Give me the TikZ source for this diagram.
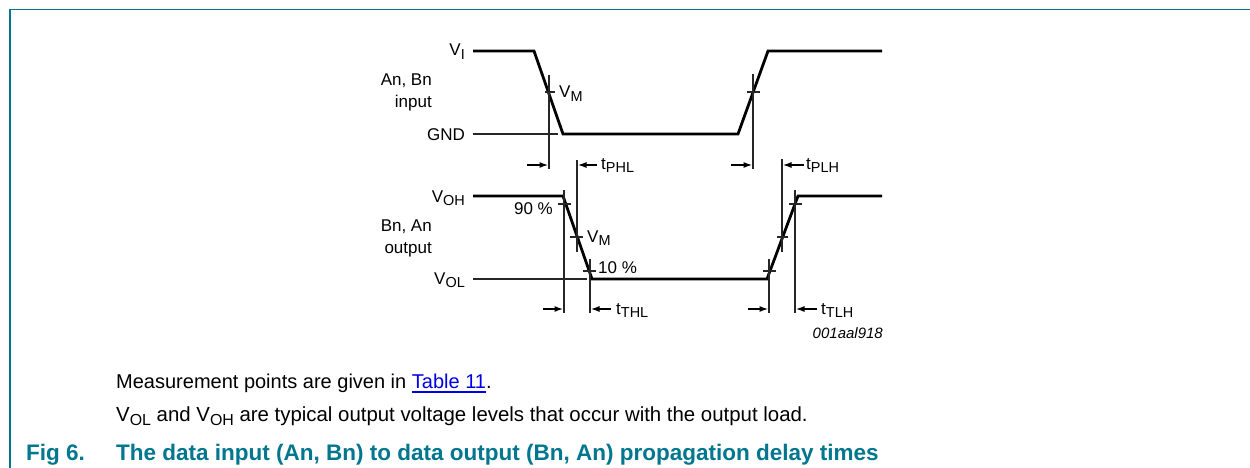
\documentclass[tikz,border=0pt]{standalone}
\usepackage{fontspec}
\setmainfont{Liberation Sans}
\usepackage{tikz}
\usetikzlibrary{arrows.meta}

\definecolor{figteal}{RGB}{0,118,143}
\definecolor{linkblue}{RGB}{0,0,230}
\newcommand{\lowsub}[3][0.85]{#2\raisebox{-0.2em}{\scalebox{#1}{#3}}}

\tikzset{
	lbl/.style={font=\fontsize{17}{20}\selectfont, inner sep=0pt},
	txt/.style={font=\fontsize{20}{24}\selectfont, inner sep=0pt, anchor=base west},
	figtitle/.style={font=\fontsize{22.5}{26}\selectfont\bfseries, text=figteal, inner sep=0pt, anchor=base west},
	wave/.style={line width=2.8pt, line join=miter},
	thin line/.style={line width=1.1pt, draw=black!85},
	meas/.style={-{Latex[length=8.5pt,width=6pt]}, line width=1.2pt}
}

\begin{document}
\begin{tikzpicture}[x=1pt,y=-1pt]
	\useasboundingbox (0,0) rectangle (1250,468);
	% frame
	\coordinate (f0) at (10,468);
	\coordinate (f1) at (10,9.5);
	\coordinate (f2) at (1250,9.5);
	\draw [figteal, line width=1.1pt] (f0) -- (f1) -- (f2);
	% input labels
	\node [lbl, anchor=base east] (vi) at (465,56) {\lowsub{V}{I}};
	\node [lbl, anchor=base east] (in1) at (432,86) {An, Bn};
	\node [lbl, anchor=base east] (in2) at (432,108) {input};
	\node [lbl, anchor=base east] (gnd) at (465,140) {GND};
	\node [lbl, anchor=base west] (vm1) at (559,98) {\lowsub{V}{M}};
	\node [lbl, anchor=base west] (tphl) at (601,169) {\lowsub{t}{PHL}};
	\node [lbl, anchor=base west] (tplh) at (806,169) {\lowsub{t}{PLH}};
	% output labels
	\node [lbl, anchor=base east] (voh) at (465,202) {\lowsub{V}{OH}};
	\node [lbl, anchor=base east] (p90) at (553,214) {90 \%};
	\node [lbl, anchor=base east] (out1) at (432,231) {Bn, An};
	\node [lbl, anchor=base east] (out2) at (432,253) {output};
	\node [lbl, anchor=base west] (vm2) at (587,242) {\lowsub{V}{M}};
	\node [lbl, anchor=base west] (p10) at (598,273) {10 \%};
	\node [lbl, anchor=base east] (vol) at (465,284) {\lowsub{V}{OL}};
	\node [lbl, anchor=base west] (tthl) at (616,314) {\lowsub{t}{THL}};
	\node [lbl, anchor=base west] (ttlh) at (821,314) {\lowsub{t}{TLH}};
	\node [anchor=base east, inner sep=0pt, font=\fontsize{15}{18}\selectfont\itshape] (code) at (883,338) {001aal918};
	% text below
	\node [txt] (note1) at (116,388) {Measurement points are given in \textcolor{linkblue}{Table 11\llap{\rule[-4.5pt]{74pt}{1.6pt}}}.};
	\node [txt, font=\fontsize{20.4}{24}\selectfont] (note2) at (116,421) {\lowsub[0.78]{V}{OL} and \lowsub[0.78]{V}{OH} are typical output voltage levels that occur with the output load.};
	\node [figtitle] (fig) at (26,460) {Fig 6.};
	\node [figtitle] (title) at (116,460) {The data input (An, Bn) to data output (Bn, An) propagation delay times};
	% input wave
	\coordinate (a0) at (473,51);
	\coordinate (a1) at (534,51);
	\coordinate (a2) at (563,134);
	\coordinate (a3) at (738,134);
	\coordinate (a4) at (768,51);
	\coordinate (a5) at (882,51);
	\draw [wave] (a0) -- (a1) -- (a2) -- (a3) -- (a4) -- (a5);
	\coordinate (a6) at (473,134);
	\coordinate (a7) at (558,134);
	\draw [thin line] (a6) -- (a7);
	% output wave
	\coordinate (b0) at (473,196);
	\coordinate (b1) at (563,196);
	\coordinate (b2) at (592,279);
	\coordinate (b3) at (767,279);
	\coordinate (b4) at (798,196);
	\coordinate (b5) at (882,196);
	\draw [wave] (b0) -- (b1) -- (b2) -- (b3) -- (b4) -- (b5);
	\coordinate (b6) at (473,279);
	\coordinate (b7) at (587,279);
	\draw [thin line] (b6) -- (b7);
	% measuring lines
	\draw [thin line] (549,75) coordinate (m1a) -- (549,169) coordinate (m1b);
	\draw [thin line] (753,74) coordinate (m2a) -- (753,169) coordinate (m2b);
	\draw [thin line] (577,160) coordinate (m3a) -- (577,252) coordinate (m3b);
	\draw [thin line] (782,159) coordinate (m4a) -- (782,252) coordinate (m4b);
	\draw [thin line] (564,190) coordinate (m5a) -- (564,313) coordinate (m5b);
	\draw [thin line] (590,259) coordinate (m6a) -- (590,313) coordinate (m6b);
	\draw [thin line] (769,259) coordinate (m7a) -- (769,313) coordinate (m7b);
	\draw [thin line] (795,190) coordinate (m8a) -- (795,313) coordinate (m8b);
	% ticks
	\draw [thin line] (545,92) coordinate (k1a) -- (555,92) coordinate (k1b);
	\draw [thin line] (747,92) coordinate (k2a) -- (760,92) coordinate (k2b);
	\draw [thin line] (558,204) coordinate (k3a) -- (571,204) coordinate (k3b);
	\draw [thin line] (570,237) coordinate (k4a) -- (583,237) coordinate (k4b);
	\draw [thin line] (583,271) coordinate (k5a) -- (596,271) coordinate (k5b);
	\draw [thin line] (763,271) coordinate (k6a) -- (776,271) coordinate (k6b);
	\draw [thin line] (777,237) coordinate (k7a) -- (788,237) coordinate (k7b);
	\draw [thin line] (789,204) coordinate (k8a) -- (802,204) coordinate (k8b);
	% arrows
	\draw [meas] (527,165) coordinate (r1a) -- (548,165) coordinate (r1b);
	\draw [meas] (597,165) coordinate (r2a) -- (578,165) coordinate (r2b);
	\draw [meas] (731,165) coordinate (r3a) -- (752,165) coordinate (r3b);
	\draw [meas] (804,165) coordinate (r4a) -- (783,165) coordinate (r4b);
	\draw [meas] (543,309) coordinate (r5a) -- (563,309) coordinate (r5b);
	\draw [meas] (611,309) coordinate (r6a) -- (591,309) coordinate (r6b);
	\draw [meas] (748,309) coordinate (r7a) -- (768,309) coordinate (r7b);
	\draw [meas] (817,309) coordinate (r8a) -- (796,309) coordinate (r8b);
\end{tikzpicture}
\end{document}
